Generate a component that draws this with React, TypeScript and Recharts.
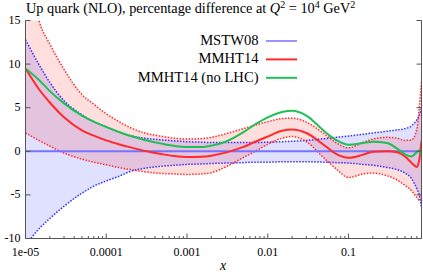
import React from 'react';
import { ComposedChart, Area, Line, XAxis, YAxis } from 'recharts';

const FONT = "'Liberation Serif', 'DejaVu Serif', 'Noto Serif', serif";
const AXIS = '#555';

// x sample points
const xValues = [1e-5, 1.5e-5, 2e-5, 3e-5, 5e-5, 7e-5, 1e-4, 1.5e-4, 2e-4, 3e-4, 5e-4, 7e-4, 1e-3, 1.5e-3, 2e-3, 3e-3, 5e-3, 7e-3, 0.01, 0.015, 0.02, 0.03, 0.05, 0.07, 0.1, 0.15, 0.2, 0.3, 0.4, 0.5, 0.6, 0.7, 0.75, 0.8];

// MSTW08 (reference, 0 %) and its uncertainty band
const mstwCentral = [0, 0, 0, 0, 0, 0, 0, 0, 0, 0, 0, 0, 0, 0, 0, 0, 0, 0, 0, 0, 0, 0, 0, 0, 0, 0, 0, 0, 0, 0, 0, 0, 0, 0];
const mstwUpper = [12.8, 9.8, 7.9, 5.8, 4.2, 3.4, 2.8, 2.15, 1.8, 1.5, 1.3, 1.2, 1.1, 1.05, 1.0, 1.0, 1.0, 1.0, 1.05, 1.1, 1.15, 1.25, 1.45, 1.6, 1.75, 1.95, 2.1, 2.3, 2.45, 2.6, 2.9, 3.6, 4.1, 5.0];
const mstwLower = [-10.8, -8.8, -7.7, -6.3, -4.8, -4.0, -3.4, -2.8, -2.3, -1.95, -1.7, -1.6, -1.5, -1.45, -1.4, -1.35, -1.3, -1.25, -1.25, -1.2, -1.2, -1.2, -1.25, -1.3, -1.35, -1.5, -1.6, -1.85, -2.1, -2.5, -3.1, -4.3, -5.0, -6.5];

// MMHT14 and its uncertainty band
const mmhtCentral = [9.5, 7.0, 5.6, 3.9, 2.4, 1.8, 1.25, 0.75, 0.45, 0.05, -0.35, -0.55, -0.65, -0.62, -0.5, -0.15, 0.5, 1.1, 1.7, 2.35, 2.5, 2.1, 0.7, -0.3, -0.75, -0.4, -0.05, 0.0, -0.1, -0.6, -1.3, -1.8, -1.0, 1.2];
const mmhtUpper = [22, 14.7, 12.3, 9.4, 6.5, 5.4, 4.3, 3.3, 2.7, 2.1, 1.7, 1.5, 1.4, 1.45, 1.6, 2.0, 2.6, 3.0, 3.4, 3.75, 3.8, 3.35, 2.0, 1.0, 0.4, 1.0, 1.4, 1.6, 1.5, 1.25, 1.3, 2.5, 5.0, 8.0];
const mmhtLower = [2.1, 1.2, 0.6, -0.2, -0.9, -1.25, -1.55, -1.9, -2.1, -2.35, -2.55, -2.6, -2.65, -2.6, -2.45, -1.8, -0.7, 0.0, 0.8, 1.5, 1.7, 1.1, -0.8, -2.0, -3.0, -2.6, -2.5, -2.8, -3.3, -3.9, -4.5, -5.3, -5.6, -5.5];

// MMHT14 (no LHC)
const noLhcCentral = [9.5, 8.1, 6.9, 5.5, 4.1, 3.4, 2.8, 2.15, 1.75, 1.3, 0.85, 0.62, 0.5, 0.5, 0.65, 1.1, 2.2, 3.1, 3.9, 4.5, 4.65, 4.1, 2.3, 1.3, 0.75, 0.95, 1.1, 0.95, 0.3, -0.35, -0.6, -0.1, 0.1, -0.5];

// ticks
const majorXTicks = [1e-5, 1e-4, 1e-3, 0.01, 0.1];
const majorXLabels = ['1e-05', '0.0001', '0.001', '0.01', '0.1'];
const minorMultipliers = [2, 3, 4, 5, 6, 7, 8, 9];
const yTicks = [-10, -5, 0, 5, 10, 15];
const yLabels = ['-10', '-5', '0', '5', '10', '15'];

const legendNames = ['MSTW08', 'MMHT14', 'MMHT14 (no LHC)'];
const legendColors = ['#7474ff', '#ff2a2a', '#1fbf55'];

const X_DOMAIN: [number, number] = [1e-5, 0.8];
const Y_DOMAIN: [number, number] = [-10, 15];

const allXTicks = [
  ...majorXTicks,
  ...majorXTicks.flatMap((d) => minorMultipliers.map((m) => d * m)).filter((v) => v < 0.79),
].sort((a, b) => a - b);

const majorIndex = (v: number) =>
  majorXTicks.findIndex((t) => Math.abs(Math.log10(t) - Math.log10(v)) < 1e-6);

const data = xValues.map((x, i) => ({
  x,
  mstw: mstwCentral[i],
  mstwBand: [mstwLower[i], mstwUpper[i]],
  mstwLo: mstwLower[i],
  mstwHi: mstwUpper[i],
  mmht: mmhtCentral[i],
  mmhtBand: [mmhtLower[i], mmhtUpper[i]],
  mmhtLo: mmhtLower[i],
  mmhtHi: mmhtUpper[i],
  nolhc: noLhcCentral[i],
}));

const txt: React.CSSProperties = { fontFamily: FONT };

const BottomTick = (props: any) => {
  const { x, y, payload } = props;
  const idx = majorIndex(payload.value);
  const major = idx >= 0;
  return (
    <g>
      <line x1={x} x2={x} y1={y} y2={y - (major ? 5 : 2.5)} stroke={AXIS} strokeWidth={1} />
      {major && (
        <text x={x} y={y + 17} textAnchor="middle" style={txt} fontSize={12} fill="#000">
          {majorXLabels[idx]}
        </text>
      )}
    </g>
  );
};

const TopTick = (props: any) => {
  const { x, y, payload } = props;
  const major = majorIndex(payload.value) >= 0;
  return <line x1={x} x2={x} y1={y} y2={y + (major ? 5 : 2.5)} stroke={AXIS} strokeWidth={1} />;
};

const LeftTick = (props: any) => {
  const { x, y, payload } = props;
  const idx = yTicks.indexOf(payload.value);
  return (
    <g>
      <line x1={x} x2={x + 5} y1={y} y2={y} stroke={AXIS} strokeWidth={1} />
      <text x={x - 5} y={y + 3.5} textAnchor="end" style={txt} fontSize={12} fill="#000">
        {yLabels[idx]}
      </text>
    </g>
  );
};

const RightTick = (props: any) => {
  const { x, y } = props;
  return <line x1={x} x2={x - 5} y1={y} y2={y} stroke={AXIS} strokeWidth={1} />;
};

export default function App() {
  return (
    <div style={{ position: 'absolute', left: 0, top: 0, width: 423, height: 273, background: '#fff', fontFamily: FONT }}>
      <ComposedChart width={423} height={273} data={data} margin={{ top: 20.5, right: 0.5, bottom: 0, left: 0 }}>
        <XAxis
          xAxisId="b"
          dataKey="x"
          type="number"
          scale="log"
          domain={X_DOMAIN}
          allowDataOverflow
          ticks={allXTicks}
          interval={0}
          tick={<BottomTick />}
          tickLine={false}
          tickSize={0}
          tickMargin={0}
          height={34.5}
          axisLine={{ stroke: AXIS }}
          orientation="bottom"
        />
        <XAxis
          xAxisId="t"
          dataKey="x"
          type="number"
          scale="log"
          domain={X_DOMAIN}
          allowDataOverflow
          ticks={allXTicks}
          interval={0}
          tick={<TopTick />}
          tickLine={false}
          tickSize={0}
          tickMargin={0}
          height={0}
          axisLine={{ stroke: AXIS }}
          orientation="top"
        />
        <YAxis
          yAxisId="l"
          type="number"
          domain={Y_DOMAIN}
          allowDataOverflow
          ticks={yTicks}
          interval={0}
          tick={<LeftTick />}
          tickLine={false}
          tickSize={0}
          tickMargin={0}
          width={25.5}
          axisLine={{ stroke: AXIS }}
          orientation="left"
        />
        <YAxis
          yAxisId="r"
          type="number"
          domain={Y_DOMAIN}
          allowDataOverflow
          ticks={yTicks}
          interval={0}
          tick={<RightTick />}
          tickLine={false}
          tickSize={0}
          tickMargin={0}
          width={1}
          axisLine={{ stroke: AXIS }}
          orientation="right"
        />

        <Area xAxisId="b" yAxisId="l" type="monotone" dataKey="mstwBand" stroke="none" fill="#0000ff" fillOpacity={0.12} isAnimationActive={false} />
        <Area xAxisId="b" yAxisId="l" type="monotone" dataKey="mmhtBand" stroke="none" fill="#ff0000" fillOpacity={0.13} isAnimationActive={false} />

        <Line xAxisId="b" yAxisId="l" type="monotone" dataKey="mstwHi" stroke="#2f2fff" strokeWidth={1.5} strokeDasharray="1.5 1.5" dot={false} isAnimationActive={false} />
        <Line xAxisId="b" yAxisId="l" type="monotone" dataKey="mstwLo" stroke="#2f2fff" strokeWidth={1.5} strokeDasharray="1.5 1.5" dot={false} isAnimationActive={false} />
        <Line xAxisId="b" yAxisId="l" type="monotone" dataKey="mmhtHi" stroke="#ff2a2a" strokeWidth={1.5} strokeDasharray="1.5 1.5" dot={false} isAnimationActive={false} />
        <Line xAxisId="b" yAxisId="l" type="monotone" dataKey="mmhtLo" stroke="#ff2a2a" strokeWidth={1.5} strokeDasharray="1.5 1.5" dot={false} isAnimationActive={false} />

        <Line xAxisId="b" yAxisId="l" type="monotone" dataKey="mstw" stroke={legendColors[0]} strokeWidth={2} dot={false} isAnimationActive={false} />
        <Line xAxisId="b" yAxisId="l" type="monotone" dataKey="mmht" stroke={legendColors[1]} strokeWidth={2} dot={false} isAnimationActive={false} />
        <Line xAxisId="b" yAxisId="l" type="monotone" dataKey="nolhc" stroke={legendColors[2]} strokeWidth={2} dot={false} isAnimationActive={false} />
      </ComposedChart>

      <svg width={423} height={273} style={{ position: 'absolute', left: 0, top: 0, pointerEvents: 'none' }}>
        <text x={26} y={12.5} style={txt} fontSize={14.3} fill="#000">
          <tspan>Up quark (NLO), percentage difference at </tspan>
          <tspan fontStyle="italic">Q</tspan>
          <tspan fontSize={10} dy={-5}>2</tspan>
          <tspan dy={5}> = 10</tspan>
          <tspan fontSize={10} dy={-5}>4</tspan>
          <tspan dy={5}> GeV</tspan>
          <tspan fontSize={10} dy={-5}>2</tspan>
        </text>
        {legendNames.map((name, i) => (
          <g key={name}>
            <text x={258.5} y={45 + i * 18.4} textAnchor="end" style={txt} fontSize={14.6} fill="#000">
              {name}
            </text>
            <line x1={266} x2={297} y1={41 + i * 18.4} y2={41 + i * 18.4} stroke={legendColors[i]} strokeWidth={i === 0 ? 1.5 : 2} />
          </g>
        ))}
        <text x={223} y={270} textAnchor="middle" style={txt} fontSize={14} fontStyle="italic" fill="#000">
          x
        </text>
      </svg>
    </div>
  );
}
